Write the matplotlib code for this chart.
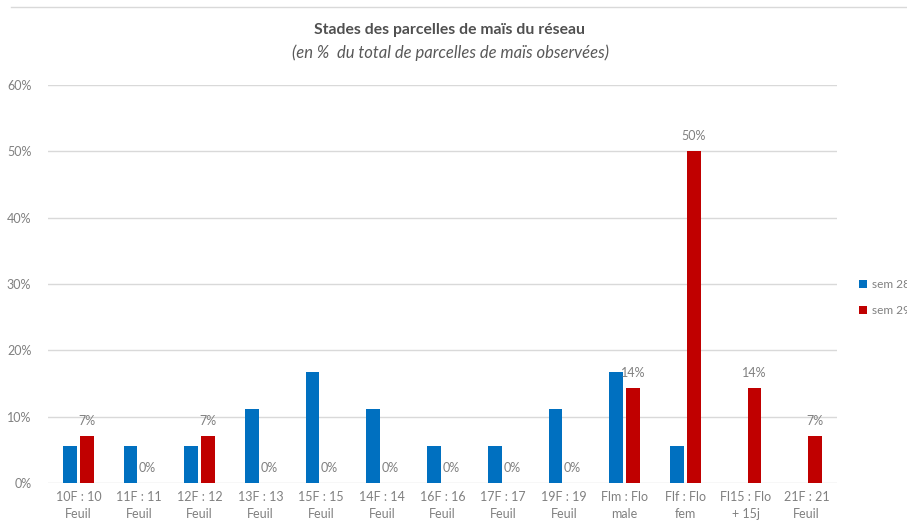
import numpy as np
import matplotlib
matplotlib.use("Agg")
import matplotlib.pyplot as plt
from matplotlib.lines import Line2D

plt.rcParams['font.family'] = ['Lato', 'DejaVu Sans']

# stades (x axis) and % of plots for each week
stades = ["10F : 10\nFeuil", "11F : 11\nFeuil", "12F : 12\nFeuil", "13F : 13\nFeuil",
          "15F : 15\nFeuil", "14F : 14\nFeuil", "16F : 16\nFeuil", "17F : 17\nFeuil",
          "19F : 19\nFeuil", "Flm : Flo\nmale", "Flf : Flo\nfem", "Fl15 : Flo\n+ 15j",
          "21F : 21\nFeuil"]
sem28 = [5.56, 5.56, 5.56, 11.11, 16.67, 11.11, 5.56, 5.56, 11.11, 16.67, 5.56, 0, 0]
sem29 = [7.14, 0, 7.14, 0, 0, 0, 0, 0, 0, 14.29, 50.0, 14.29, 7.14]
yticks = [0, 10, 20, 30, 40, 50, 60]

blue = "#0070C0"
red = "#C00000"
grey = "#808080"

fig = plt.figure(figsize=(9.07, 5.31), dpi=100)
ax = fig.add_axes([48/907, 48/531, 789/907, 398/531])

x = np.arange(len(stades))
w = 0.225
ax.bar(x - 0.14, sem28, w, color=blue, label="sem 28")
ax.bar(x + 0.14, sem29, w, color=red, label="sem 29")

for xi, v in zip(x, sem29):
    ax.annotate("%d%%" % round(v), (xi + 0.14, v), xytext=(0, 15), textcoords="offset pixels",
                ha="center", va="center", fontsize=9, color=grey)

ax.set_xlim(-0.5, len(stades) - 0.5)
ax.set_ylim(0, 60)
ax.set_yticks(yticks)
ax.set_yticklabels(["%d%%" % t for t in yticks])
ax.set_xticks(x)
ax.set_xticklabels(stades, linespacing=1.5)
ax.tick_params(axis="both", length=0, colors=grey, labelsize=9)
ax.tick_params(axis="y", pad=12)
ax.tick_params(axis="x", pad=6)
ax.grid(axis="y", color="#d9d9d9", linewidth=1)
ax.set_axisbelow(True)
for s in ax.spines.values():
    s.set_visible(False)

# chart border line at top
fig.add_artist(Line2D([11/907, 1], [1 - 7/531, 1 - 7/531], color="#d9d9d9", linewidth=1))

fig.text(449/907, 1 - 30/531, "Stades des parcelles de maïs du réseau", ha="center", va="center",
         fontsize=11.3, fontweight="bold", color="#505050")
fig.text(451/907, 1 - 53/531, "(en %  du total de parcelles de maïs observées)", ha="center",
         va="center", fontsize=12, style="italic", color="#595959")

# legend sits at the right edge, partly cut like in the source chart
ax.legend(loc="upper left", bbox_to_anchor=(859/907, 1 - 279/531), bbox_transform=fig.transFigure,
          frameon=False, handlelength=0.7, handleheight=0.7, handletextpad=0.35,
          labelspacing=1.25, fontsize=8.6, labelcolor=grey, borderaxespad=0, borderpad=0)

fig.savefig("out.png", dpi=100)
